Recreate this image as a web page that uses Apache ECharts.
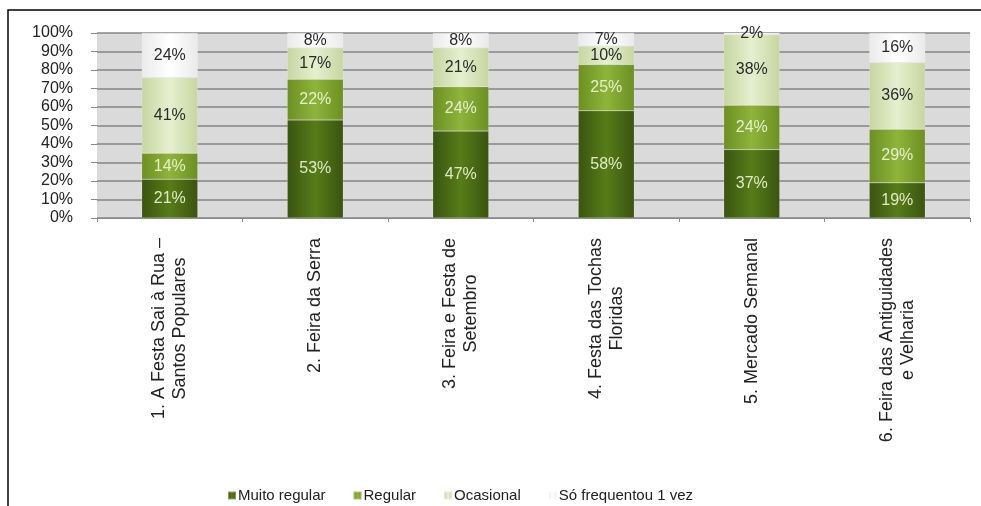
<!DOCTYPE html>
<html>
<head>
<meta charset="utf-8">
<script src="https://cdn.jsdelivr.net/npm/echarts@6/dist/echarts.min.js"></script>
<style>
  html, body { margin: 0; padding: 0; background: #fff; }
  #chart { width: 981px; height: 506px; }
</style>
</head>
<body>
<div id="chart"></div>
<script>
const categories = [
  '1. A Festa Sai à Rua –\nSantos Populares',
  '2. Feira da Serra',
  '3. Feira e Festa de\nSetembro',
  '4. Festa das Tochas\nFloridas',
  '5. Mercado Semanal',
  '6. Feira das Antiguidades\ne Velharia'
]
const muitoRegular = [21, 53, 47, 58, 37, 19]
const regular = [14, 22, 24, 25, 24, 29]
const ocasional = [41, 17, 21, 10, 38, 36]
const soUmaVez = [24, 8, 8, 7, 2, 16]

function grad (edge, mid) {
  return new echarts.graphic.LinearGradient(0, 0, 1, 0, [
    { offset: 0, color: edge },
    { offset: 0.5, color: mid },
    { offset: 1, color: edge }
  ])
}

function makeSeries (name, data, edge, mid, legendColor, labelColor) {
  return {
    name: name,
    type: 'bar',
    stack: 'total',
    barWidth: 56,
    data: data,
    color: legendColor,
    itemStyle: { color: grad(edge, mid), borderColor: 'rgba(255,255,255,0.35)', borderWidth: 0.5 },
    label: {
      show: true,
      position: 'inside',
      formatter: '{c}%',
      color: labelColor,
      fontSize: 16
    }
  }
}

const chart = echarts.init(document.getElementById('chart'))
chart.setOption({
  animation: false,
  textStyle: { fontFamily: 'Liberation Sans' },
  graphic: [{
    type: 'polyline',
    shape: { points: [[8, 506], [8, 10], [981, 10]] },
    style: { stroke: '#000', lineWidth: 1.5, fill: null }
  }, {
    type: 'rect',
    z: -1,
    shape: { x: 97, y: 33, width: 873, height: 185 },
    style: { fill: '#dadada' }
  }],
  grid: { left: 97, right: 11, top: 33, bottom: 288 },
  legend: {
    left: 222,
    top: 483,
    itemWidth: 8,
    itemHeight: 8,
    itemGap: 27,
    icon: 'rect',
    textStyle: { fontSize: 15, color: '#222', padding: [0, 0, 0, -3] },
    data: ['Muito regular', 'Regular', 'Ocasional', 'Só frequentou 1 vez']
  },
  xAxis: {
    type: 'category',
    data: categories,
    axisLine: { lineStyle: { color: '#888' } },
    axisTick: { show: true, length: 4, lineStyle: { color: '#888' } },
    axisLabel: {
      rotate: 90,
      interval: 0,
      margin: 20,
      color: '#222',
      align: 'right',
      verticalAlign: 'middle',
      formatter: (value) => value.split('\n').map((s) => '{c|' + s + '}').join('\n'),
      rich: {
        c: { align: 'center', fontSize: 18, lineHeight: 21, color: '#222' }
      }
    }
  },
  yAxis: {
    type: 'value',
    min: 0,
    max: 100,
    interval: 10,
    axisLine: { show: false },
    axisTick: { show: true, length: 6, lineStyle: { color: '#888' } },
    splitLine: { lineStyle: { color: '#858585', width: 1.5 } },
    axisLabel: {
      formatter: '{value}%',
      fontSize: 16,
      color: '#222',
      margin: 24
    }
  },
  series: [
    makeSeries('Muito regular', muitoRegular, '#3a5410', '#587c18', '#3f5c0f', '#dfeac4'),
    makeSeries('Regular', regular, '#6c8f22', '#8fb43a', '#7aa12a', '#e6efcc'),
    makeSeries('Ocasional', ocasional, '#c6d6a0', '#e6efcf', '#c6d89e', '#2a2a2a'),
    makeSeries('Só frequentou 1 vez', soUmaVez, '#eaeaea', '#ffffff', '#e8e8e8', '#2a2a2a')
  ]
})
</script>
</body>
</html>
